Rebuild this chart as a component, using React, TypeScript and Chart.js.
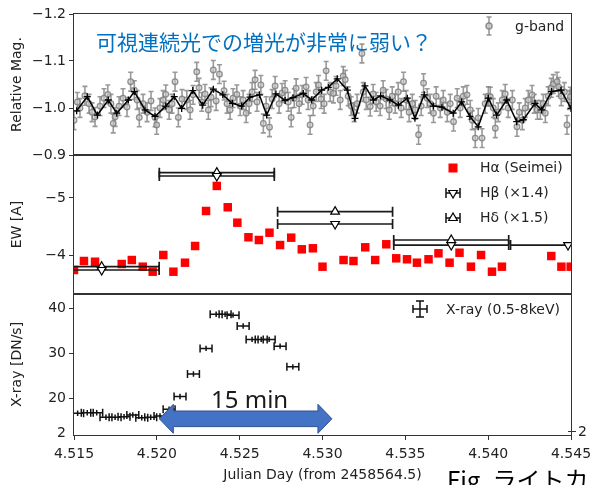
import { useEffect, useRef } from 'react';
import { Chart, registerables } from 'chart.js';

Chart.register(...registerables);

const FONT = "'DejaVu Sans', sans-serif";

// ---- axis ticks ----
const xTicks = [4.515, 4.52, 4.525, 4.53, 4.535, 4.54, 4.545];
const magTicks = [-1.2, -1.1, -1.0, -0.9];
const ewTicks = [-5, -4];
const xrayTicks = [20, 30, 40];

// ---- g-band (individual) ----
const gBand: [number, number][] = [
  [4.51500,-0.974],[4.51520,-1.013],[4.51536,-1.000],[4.51566,-1.026],[4.51591,-1.009],[4.51609,-0.991],[4.51627,-0.981],[4.51657,-1.004],
  [4.51681,-1.021],[4.51704,-1.029],[4.51723,-1.009],[4.51737,-0.967],[4.51748,-0.981],[4.51772,-1.004],[4.51796,-1.021],[4.51820,-1.002],
  [4.51842,-1.056],[4.51864,-1.038],[4.51881,-1.017],[4.51894,-0.980],[4.51917,-1.009],[4.51941,-0.991],[4.51965,-1.015],[4.51989,-0.980],
  [4.51999,-0.964],[4.52019,-1.000],[4.52038,-1.017],[4.52054,-1.029],[4.52074,-0.996],[4.52092,-1.009],[4.52110,-1.056],[4.52130,-0.980],
  [4.52152,-1.019],[4.52181,-1.017],[4.52201,-0.996],[4.52219,-1.028],[4.52241,-1.077],[4.52255,-1.043],[4.52271,-1.013],[4.52291,-1.030],
  [4.52311,-0.996],[4.52327,-1.023],[4.52341,-1.081],[4.52358,-1.015],[4.52378,-1.072],[4.52406,-1.037],[4.52424,-1.009],[4.52442,-0.996],
  [4.52460,-1.021],[4.52483,-1.029],[4.52503,-1.004],[4.52521,-1.017],[4.52539,-0.989],[4.52557,-1.009],[4.52575,-1.034],[4.52593,-1.060],
  [4.52605,-1.013],[4.52628,-1.049],[4.52643,-0.967],[4.52660,-1.004],[4.52680,-0.959],[4.52696,-1.019],[4.52714,-1.047],[4.52738,-1.009],
  [4.52756,-1.032],[4.52774,-1.038],[4.52793,-1.013],[4.52811,-0.980],[4.52829,-1.021],[4.52841,-1.042],[4.52859,-1.009],[4.52877,-1.028],
  [4.52901,-1.045],[4.52913,-1.017],[4.52925,-0.964],[4.52944,-1.004],[4.52962,-1.034],[4.52976,-1.049],[4.52992,-1.019],[4.53010,-1.009],
  [4.53022,-1.079],[4.53046,-1.034],[4.53066,-1.031],[4.53082,-1.047],[4.53107,-1.017],[4.53125,-1.068],[4.53137,-1.060],[4.53155,-1.025],
  [4.53173,-1.004],[4.53191,-0.991],[4.53209,-1.009],[4.53238,-1.116],[4.53246,-1.034],[4.53264,-1.017],[4.53288,-1.003],[4.53306,-1.030],
  [4.53324,-1.013],[4.53348,-1.004],[4.53366,-1.038],[4.53384,-1.019],[4.53403,-0.996],[4.53421,-1.025],[4.53439,-1.009],[4.53457,-1.034],
  [4.53475,-1.000],[4.53489,-1.056],[4.53505,-1.017],[4.53523,-0.991],[4.53542,-1.009],[4.53560,-0.996],[4.53580,-0.943],[4.53596,-1.004],
  [4.53610,-1.053],[4.53632,-1.021],[4.53650,-1.009],[4.53670,-0.989],[4.53686,-1.025],[4.53711,-1.000],[4.53729,-1.017],[4.53753,-0.991],
  [4.53771,-1.009],[4.53791,-0.971],[4.53813,-1.021],[4.53831,-1.000],[4.53850,-1.025],[4.53872,-1.028],[4.53892,-0.996],[4.53904,-0.974],
  [4.53922,-0.936],[4.53940,-0.979],[4.53963,-0.936],[4.53982,-1.009],[4.54001,-1.025],[4.54013,-1.024],[4.54031,-1.000],[4.54043,-0.957],
  [4.54061,-0.991],[4.54085,-1.017],[4.54103,-1.030],[4.54121,-1.000],[4.54146,-1.017],[4.54174,-0.960],[4.54188,-0.991],[4.54206,-0.974],
  [4.54224,-1.000],[4.54242,-1.017],[4.54265,-1.028],[4.54278,-1.009],[4.54297,-0.996],[4.54315,-0.996],[4.54333,-1.009],[4.54345,-0.989],
  [4.54363,-1.025],[4.54381,-1.043],[4.54393,-1.051],[4.54416,-1.056],[4.54425,-1.045],[4.54441,-1.025],[4.54460,-1.034],[4.54476,-0.964],
  [4.54490,-1.017],[4.54496,-1.024],
];
const gBandErr = 0.02;

// ---- g-band (binned, black line) ----
const gBin: [number, number][] = [
  [4.51516,-0.994],[4.51580,-1.024],[4.51641,-0.985],[4.51707,-1.017],[4.51758,-0.989],[4.51828,-1.017],[4.51864,-1.035],[4.51929,-0.996],
  [4.51989,-0.982],[4.52054,-1.004],[4.52105,-1.024],[4.52150,-0.999],[4.52217,-1.037],[4.52277,-1.006],[4.52341,-1.040],[4.52398,-1.028],
  [4.52456,-1.010],[4.52512,-1.004],[4.52562,-1.023],[4.52619,-1.028],[4.52663,-0.985],[4.52719,-1.030],[4.52774,-1.016],[4.52822,-1.022],
  [4.52884,-1.031],[4.52935,-1.017],[4.52995,-1.038],[4.53035,-1.044],[4.53089,-1.062],[4.53150,-1.038],[4.53196,-0.978],[4.53256,-1.047],
  [4.53307,-1.017],[4.53351,-1.026],[4.53407,-1.017],[4.53458,-1.006],[4.53512,-1.021],[4.53558,-0.978],[4.53614,-1.028],[4.53669,-1.004],
  [4.53721,-1.002],[4.53789,-0.989],[4.53840,-1.013],[4.53890,-0.982],[4.53940,-0.960],[4.54001,-1.021],[4.54051,-0.985],[4.54112,-1.017],
  [4.54172,-0.971],[4.54212,-0.975],[4.54283,-1.010],[4.54323,-0.996],[4.54383,-1.035],[4.54440,-1.038],[4.54500,-0.999],
];

// ---- H-alpha EW ----
const hAlpha: [number, number][] = [
  [4.51500,-3.737],[4.51560,-3.895],[4.51627,-3.882],[4.51788,-3.842],[4.51849,-3.912],[4.51915,-3.795],[4.51975,-3.707],
  [4.52039,-4.000],[4.52100,-3.707],[4.52170,-3.865],[4.52231,-4.158],[4.52297,-4.772],[4.52362,-5.211],[4.52428,-4.837],
  [4.52486,-4.567],[4.52553,-4.311],[4.52616,-4.263],[4.52680,-4.391],[4.52744,-4.175],[4.52811,-4.304],[4.52875,-4.100],
  [4.52942,-4.118],[4.53000,-3.795],[4.53127,-3.912],[4.53187,-3.895],[4.53258,-4.135],[4.53318,-3.912],[4.53385,-4.188],
  [4.53445,-3.942],[4.53510,-3.925],[4.53570,-3.865],[4.53640,-3.925],[4.53700,-4.030],[4.53767,-3.865],[4.53827,-4.040],
  [4.53896,-3.795],[4.53957,-4.000],[4.54023,-3.707],[4.54083,-3.795],[4.54381,-3.982],[4.54442,-3.795],[4.54498,-3.795],
];
const hAlphaErr = 0.03;

// ---- H-beta / H-delta EW (scaled) ----
const hBeta: [number, number][] = [
  [4.51667,-3.737],[4.52362,-5.386],[4.53076,-4.544],[4.53777,-4.175],[4.54482,-4.175],
];
const hDelta: [number, number][] = [
  [4.51667,-3.795],[4.52362,-5.444],[4.53076,-4.760],[4.53777,-4.263],
];
const specHalfExposure = 0.00347;

// ---- X-ray ----
const xray: [number, number][] = [
  [4.51522,16.7],[4.51580,16.8],[4.51637,16.8],[4.51693,15.8],[4.51748,15.8],[4.51802,15.9],[4.51855,16.3],[4.51909,15.7],
  [4.51963,15.8],[4.52019,16.1],[4.52074,17.6],[4.52140,20.4],[4.52221,25.4],[4.52297,31.1],[4.52358,38.7],[4.52412,38.7],
  [4.52460,38.5],[4.52521,36.1],[4.52575,33.1],[4.52630,33.1],[4.52678,33.1],[4.52744,31.6],[4.52821,27.0],
];
const xrayXErr = 0.00036;
const xrayYErr = 0.6;

// ---- annotation (15 min arrow) ----
const arrowFrom = 4.52015;
const arrowTo = 4.53057;
const arrowLevel = 15.45;
const arrowLabelX = 4.5256;

const toPts = (a: [number, number][]) => a.map(([x, y]) => ({ x, y }));
const fmtMinus = (v: number, d: number) => v.toFixed(d).replace('-', '\u2212');

const errorBarPlugin = {
  id: 'errorBars',
  beforeDatasetDraw(chart: any, args: any) {
    const ds = chart.data.datasets[args.index];
    const eb = ds.errorBars;
    if (!eb) return;
    const meta = args.meta;
    const xs = chart.scales[meta.xAxisID];
    const ys = chart.scales[meta.yAxisID];
    const ca = chart.chartArea;
    const ctx = chart.ctx;
    ctx.save();
    ctx.beginPath();
    ctx.rect(ca.left, ys.top, ca.right - ca.left, ys.bottom - ys.top);
    ctx.clip();
    ctx.strokeStyle = eb.color;
    ctx.lineWidth = eb.width;
    ds.data.forEach((p: any) => {
      const x = xs.getPixelForValue(p.x);
      const y = ys.getPixelForValue(p.y);
      ctx.beginPath();
      if (eb.yerr) {
        const y1 = ys.getPixelForValue(p.y - eb.yerr);
        const y2 = ys.getPixelForValue(p.y + eb.yerr);
        ctx.moveTo(x, y1); ctx.lineTo(x, y2);
        if (eb.capY) {
          ctx.moveTo(x - eb.capY, y1); ctx.lineTo(x + eb.capY, y1);
          ctx.moveTo(x - eb.capY, y2); ctx.lineTo(x + eb.capY, y2);
        }
      }
      if (eb.xerr) {
        const x1 = xs.getPixelForValue(p.x - eb.xerr);
        const x2 = xs.getPixelForValue(p.x + eb.xerr);
        ctx.moveTo(x1, y); ctx.lineTo(x2, y);
        if (eb.capX) {
          ctx.moveTo(x1, y - eb.capX); ctx.lineTo(x1, y + eb.capX);
          ctx.moveTo(x2, y - eb.capX); ctx.lineTo(x2, y + eb.capX);
        }
      }
      ctx.stroke();
    });
    ctx.restore();
  },
};

function tri(ctx: any, x: number, y: number, r: number, down: boolean) {
  const s = down ? -1 : 1;
  ctx.beginPath();
  ctx.moveTo(x, y - s * r);
  ctx.lineTo(x - r * 0.866, y + s * r / 2);
  ctx.lineTo(x + r * 0.866, y + s * r / 2);
  ctx.closePath();
  ctx.fillStyle = '#fff';
  ctx.fill();
  ctx.strokeStyle = '#000';
  ctx.lineWidth = 1.2;
  ctx.stroke();
}

const overlayPlugin = {
  id: 'overlay',
  afterDraw(chart: any) {
    const { ctx, chartArea: ca, scales } = chart;
    const sM = scales.yMag, sE = scales.yEW, sX = scales.yX, sx = scales.x;
    ctx.save();
    // panel frames
    ctx.strokeStyle = '#333';
    ctx.lineWidth = 1;
    for (const s of [sM, sE, sX]) {
      ctx.strokeRect(Math.round(ca.left) - 0.5, Math.round(s.top) - 0.5, Math.round(ca.right - ca.left) + 1, Math.round(s.bottom - s.top) + 1);
    }

    ctx.textBaseline = 'middle';
    ctx.textAlign = 'left';
    ctx.fillStyle = '#222';
    ctx.font = `14px ${FONT}`;

    // legend: g-band
    const lgX = ca.right - 82;
    const lgY = sM.top + 12;
    ctx.strokeStyle = 'rgba(128,128,128,0.85)';
    ctx.lineWidth = 1.5;
    ctx.beginPath();
    ctx.moveTo(lgX, lgY - 9); ctx.lineTo(lgX, lgY + 9);
    ctx.moveTo(lgX - 2.5, lgY - 9); ctx.lineTo(lgX + 2.5, lgY - 9);
    ctx.moveTo(lgX - 2.5, lgY + 9); ctx.lineTo(lgX + 2.5, lgY + 9);
    ctx.stroke();
    ctx.beginPath(); ctx.arc(lgX, lgY, 3, 0, Math.PI * 2);
    ctx.fillStyle = 'rgba(200,200,200,0.8)'; ctx.fill(); ctx.stroke();
    ctx.fillStyle = '#222';
    ctx.fillText('g-band', lgX + 26, lgY + 1);

    // legend: spectra
    const l2X = ca.right - 118;
    const l2Y = sE.top + 13;
    ctx.fillStyle = '#ff0000';
    ctx.fillRect(l2X - 4.5, l2Y - 4.5, 9, 9);
    ctx.fillStyle = '#222';
    ctx.fillText('H\u03b1 (Seimei)', l2X + 27, l2Y);
    const rows: [string, boolean][] = [['H\u03b2 (\u00d71.4)', true], ['H\u03b4 (\u00d71.5)', false]];
    rows.forEach(([label, down], i) => {
      const yy = l2Y + 25 * (i + 1);
      ctx.strokeStyle = '#111';
      ctx.lineWidth = 1.5;
      ctx.beginPath();
      ctx.moveTo(l2X - 7, yy); ctx.lineTo(l2X + 7, yy);
      ctx.moveTo(l2X - 7, yy - 5); ctx.lineTo(l2X - 7, yy + 5);
      ctx.moveTo(l2X + 7, yy - 5); ctx.lineTo(l2X + 7, yy + 5);
      ctx.stroke();
      tri(ctx, l2X, yy, 5, down);
      ctx.fillStyle = '#222';
      ctx.fillText(label, l2X + 27, yy);
    });

    // legend: X-ray
    const l3X = ca.right - 151;
    const l3Y = sX.top + 15;
    ctx.strokeStyle = '#111';
    ctx.lineWidth = 1.5;
    ctx.beginPath();
    ctx.moveTo(l3X - 7, l3Y); ctx.lineTo(l3X + 7, l3Y);
    ctx.moveTo(l3X - 7, l3Y - 4); ctx.lineTo(l3X - 7, l3Y + 4);
    ctx.moveTo(l3X + 7, l3Y - 4); ctx.lineTo(l3X + 7, l3Y + 4);
    ctx.moveTo(l3X, l3Y - 8); ctx.lineTo(l3X, l3Y + 8);
    ctx.moveTo(l3X - 4, l3Y - 8); ctx.lineTo(l3X + 4, l3Y - 8);
    ctx.moveTo(l3X - 4, l3Y + 8); ctx.lineTo(l3X + 4, l3Y + 8);
    ctx.stroke();
    ctx.fillStyle = '#222';
    ctx.fillText('X-ray (0.5-8keV)', l3X + 26, l3Y + 1);

    // stray "2" labels at bottom of x-ray panel
    ctx.textAlign = 'right';
    ctx.fillText('2', ca.left - 8, ca.bottom - 2);
    ctx.textAlign = 'left';
    ctx.beginPath();
    ctx.strokeStyle = '#333';
    ctx.lineWidth = 1;
    ctx.moveTo(ca.right - 3, ca.bottom - 3.5); ctx.lineTo(ca.right + 5, ca.bottom - 3.5);
    ctx.stroke();
    ctx.fillText('2', ca.right + 7, ca.bottom - 3);

    // blue annotation
    ctx.fillStyle = '#0070C0';
    ctx.font = `21px 'Noto Sans CJK JP', sans-serif`;
    ctx.fillText('可視連続光での増光が非常に弱い？', ca.left + 22, sM.top + 28);

    // 15 min arrow
    const x1 = sx.getPixelForValue(arrowFrom);
    const x2 = sx.getPixelForValue(arrowTo);
    const yc = sX.getPixelForValue(arrowLevel);
    const sh = 7.8, hh = 14.5, hl = 14;
    ctx.beginPath();
    ctx.moveTo(x1, yc);
    ctx.lineTo(x1 + hl, yc - hh);
    ctx.lineTo(x1 + hl, yc - sh);
    ctx.lineTo(x2 - hl, yc - sh);
    ctx.lineTo(x2 - hl, yc - hh);
    ctx.lineTo(x2, yc);
    ctx.lineTo(x2 - hl, yc + hh);
    ctx.lineTo(x2 - hl, yc + sh);
    ctx.lineTo(x1 + hl, yc + sh);
    ctx.lineTo(x1 + hl, yc + hh);
    ctx.closePath();
    ctx.fillStyle = '#4472C4';
    ctx.fill();
    ctx.strokeStyle = '#2F528F';
    ctx.lineWidth = 1;
    ctx.stroke();

    ctx.fillStyle = '#1a1a1a';
    ctx.font = `24px 'Noto Sans', sans-serif`;
    ctx.textAlign = 'center';
    ctx.textBaseline = 'alphabetic';
    ctx.fillText('15 min', sx.getPixelForValue(arrowLabelX), yc - 11);

    // figure caption (cut by page edge)
    ctx.textAlign = 'left';
    ctx.fillStyle = '#000';
    ctx.font = `24px 'Noto Sans CJK JP', sans-serif`;
    ctx.fillText('Fig. ライトカ', ca.right - 124, chart.height + 4);
    ctx.restore();
  },
};

function yAxis(id: string, min: number, max: number, ticks: number[], decimals: number, weight: number, stackWeight: number, title: string) {
  return {
    type: 'linear',
    position: 'left',
    stack: 'panels',
    stackWeight,
    weight,
    reverse: id !== 'yX',
    min,
    max,
    afterBuildTicks: (s: any) => { s.ticks = ticks.map((v) => ({ value: v })); },
    afterFit: (s: any) => { s.width = 74; s.paddingTop = 0; s.paddingBottom = 0; },
    ticks: {
      font: { family: FONT, size: 14 },
      color: '#222',
      padding: 3,
      callback: (v: number) => fmtMinus(v, decimals),
    },
    grid: { drawOnChartArea: false, drawTicks: true, tickLength: 5, tickColor: '#333' },
    border: { display: false },
    title: { display: true, text: title, font: { family: FONT, size: 14 }, color: '#222', padding: { top: 9, bottom: 0 } },
  };
}

export default function App() {
  const ref = useRef<HTMLCanvasElement | null>(null);
  useEffect(() => {
    if (!ref.current) return;
    const chart = new Chart(ref.current, {
      type: 'scatter',
      data: {
        datasets: [
          {
            label: 'g-band binned',
            data: toPts(gBin),
            yAxisID: 'yMag',
            showLine: true,
            borderColor: '#000',
            backgroundColor: '#000',
            borderWidth: 1.5,
            pointStyle: 'cross',
            pointRadius: 3.5,
            pointBorderWidth: 1.3,
            clip: 0,
          },
          {
            label: 'g-band',
            data: toPts(gBand),
            yAxisID: 'yMag',
            borderColor: 'rgba(128,128,128,0.85)',
            backgroundColor: 'rgba(200,200,200,0.6)',
            pointRadius: 2.8,
            pointBorderWidth: 1.3,
            errorBars: { yerr: gBandErr, color: 'rgba(128,128,128,0.8)', width: 1.6, capY: 2.5 },
            clip: 0,
          },
          {
            label: 'H\u03b2 (\u00d71.4)',
            data: toPts(hBeta),
            yAxisID: 'yEW',
            pointStyle: 'triangle',
            rotation: 180,
            pointRadius: 5,
            borderColor: '#000',
            backgroundColor: '#fff',
            pointBorderWidth: 1.2,
            errorBars: { xerr: specHalfExposure, color: '#1a1a1a', width: 1.7, capX: 5 },
            clip: 0,
          },
          {
            label: 'H\u03b4 (\u00d71.5)',
            data: toPts(hDelta),
            yAxisID: 'yEW',
            pointStyle: 'triangle',
            pointRadius: 5,
            borderColor: '#000',
            backgroundColor: '#fff',
            pointBorderWidth: 1.2,
            errorBars: { xerr: specHalfExposure, color: '#1a1a1a', width: 1.7, capX: 5 },
            clip: 0,
          },
          {
            label: 'H\u03b1 (Seimei)',
            data: toPts(hAlpha),
            yAxisID: 'yEW',
            pointStyle: 'rect',
            pointRadius: 6,
            borderColor: '#ff0000',
            backgroundColor: '#ff0000',
            pointBorderWidth: 0,
            errorBars: { yerr: hAlphaErr, color: 'rgba(255,110,110,0.8)', width: 1.2, capY: 3 },
            clip: 0,
          },
          {
            label: 'X-ray (0.5-8keV)',
            data: toPts(xray),
            yAxisID: 'yX',
            pointRadius: 0,
            borderColor: '#000',
            errorBars: { xerr: xrayXErr, yerr: xrayYErr, color: '#111', width: 1.5, capX: 4, capY: 0 },
            clip: 0,
          },
        ],
      } as any,
      options: {
        animation: false,
        responsive: false,
        devicePixelRatio: 1,
        events: [],
        layout: { padding: { top: 14, right: 22, left: 0, bottom: 0 } },
        plugins: { legend: { display: false }, tooltip: { enabled: false } },
        scales: {
          x: {
            type: 'linear',
            position: 'bottom',
            min: 4.515,
            max: 4.545,
            afterBuildTicks: (s: any) => { s.ticks = xTicks.map((v) => ({ value: v })); },
            afterFit: (s: any) => { s.height = 50; s.paddingLeft = 0; s.paddingRight = 0; },
            ticks: {
              font: { family: FONT, size: 14 },
              color: '#222',
              padding: 6,
              maxRotation: 0,
              callback: (v: number) => v.toFixed(3),
            },
            grid: { drawOnChartArea: false, drawTicks: true, tickLength: 5, tickColor: '#333' },
            border: { display: false },
            title: { display: true, text: 'Julian Day (from 2458564.5)', font: { family: FONT, size: 14 }, color: '#222', padding: { top: 0, bottom: 1 } },
          },
          yMag: yAxis('yMag', -1.2, -0.9, magTicks, 1, 3, 141, 'Relative Mag.'),
          yEW: yAxis('yEW', -5.754, -3.316, ewTicks, 0, 2, 139, 'EW [A]'),
          yX: yAxis('yX', 11.85, 43.2, xrayTicks, 0, 1, 141, 'X-ray [DN/s]'),
        } as any,
      },
      plugins: [errorBarPlugin, overlayPlugin],
    });
    return () => chart.destroy();
  }, []);
  return (
    <div style={{ position: 'absolute', left: 0, top: 0, width: 593, height: 485, background: '#fff' }}>
      <canvas ref={ref} width={593} height={485} style={{ display: 'block' }} />
    </div>
  );
}
